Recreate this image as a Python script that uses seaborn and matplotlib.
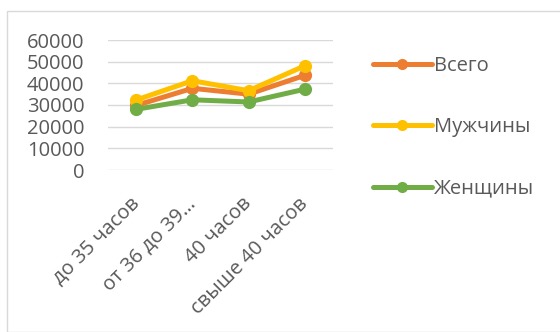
import matplotlib
matplotlib.use("Agg")
import matplotlib.pyplot as plt
import seaborn as sns
import pandas as pd
from matplotlib.lines import Line2D
from matplotlib.patches import Rectangle

categories = ["до 35 часов", "от 36 до 39…", "40 часов", "свыше 40 часов"]
series_names = ["Всего", "Мужчины", "Женщины"]
vsego = [29800, 37700, 35000, 43700]
muzhchiny = [32300, 41200, 36600, 48100]
zhenshchiny = [28000, 32400, 31400, 37300]
y_ticks = [0, 10000, 20000, 30000, 40000, 50000, 60000]

colors = ["#ED7D31", "#FFC000", "#70AD47"]

rows = []
for name, vals in zip(series_names, [vsego, muzhchiny, zhenshchiny]):
    for i, v in enumerate(vals):
        rows.append({"cat": i, "val": v, "series": name})
df = pd.DataFrame(rows)

sns.set_style("white")
plt.rcParams["font.family"] = ["Open Sans", "DejaVu Sans"]

fig = plt.figure(figsize=(5.6, 3.32), dpi=100)
ax = fig.add_axes([108/560, 1 - 170/332, 225/560, 130/332])

sns.lineplot(data=df, x="cat", y="val", hue="series", hue_order=series_names,
             palette=colors, marker="o", markersize=9.5, markeredgewidth=0,
             linewidth=3.6, ax=ax, legend=False)

ax.set_xlim(-0.5, 3.5)
ax.set_ylim(0, 60000)
ax.set_yticks(y_ticks)
ax.set_yticklabels([str(t) for t in y_ticks])
ax.set_xticks(range(len(categories)))
ax.set_xticklabels(categories, rotation=45, ha="right", va="center",
                   rotation_mode="anchor")
ax.set_xlabel("")
ax.set_ylabel("")
ax.grid(axis="y", color="#D9D9D9", linewidth=1)
ax.set_axisbelow(True)
for s in ax.spines.values():
    s.set_visible(False)
ax.tick_params(axis="both", length=0, labelsize=14.5, labelcolor="#595959")
ax.tick_params(axis="y", pad=17)
ax.tick_params(axis="x", pad=22)

handles = [Line2D([0], [0], color=c, linewidth=3.6, marker="o", markersize=8,
                  markeredgewidth=0) for c in colors]
fig.legend(handles, series_names, loc="upper left",
           bbox_to_anchor=(355/560, 1 - 38/332), frameon=False,
           fontsize=14.5, labelcolor="#595959", handlelength=2.9,
           handletextpad=0.1, labelspacing=2.05)

fig.patches.append(Rectangle((7/560, 0), 1.0, 1 - 11/332, transform=fig.transFigure,
                             fill=False, edgecolor="#D9D9D9", linewidth=1))

fig.savefig("out.png", dpi=100)
